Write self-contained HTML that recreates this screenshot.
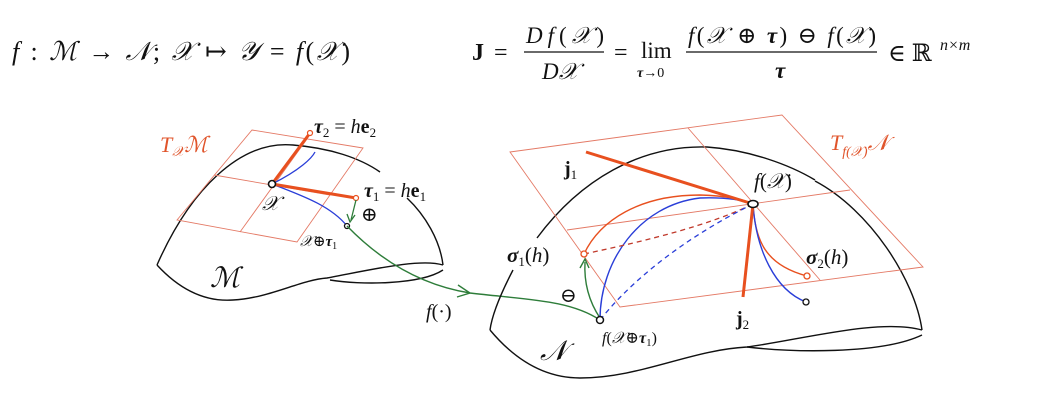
<!DOCTYPE html>
<html><head><meta charset="utf-8"><style>
html,body{margin:0;padding:0;background:#fff;}
svg{display:block;}
text{font-family:"Liberation Serif","DejaVu Serif",serif;fill:#111;}
.i{font-style:italic;}
.r{fill:#e0542b;}
</style></head><body>
<svg width="1052" height="419" viewBox="0 0 1052 419" xmlns="http://www.w3.org/2000/svg">
<!-- formulas -->
<text x="12" y="60" font-size="26" textLength="338" lengthAdjust="spacing"><tspan class="i">f</tspan> : <tspan class="i">ℳ</tspan> → <tspan class="i">𝒩</tspan>; <tspan class="i">𝒳</tspan> ↦ <tspan class="i">𝒴</tspan> = <tspan class="i">f</tspan>(<tspan class="i">𝒳</tspan>)</text>
<text x="472" y="60" font-size="24" font-weight="bold">J</text>
<text x="494" y="60" font-size="24">=</text>
<text x="526" y="43" font-size="23" textLength="78" lengthAdjust="spacing"><tspan class="i">Df</tspan>(<tspan class="i">𝒳</tspan>)</text>
<line x1="524" y1="52" x2="604" y2="52" stroke="#111" stroke-width="1.3"/>
<text x="542" y="79" font-size="23" class="i">D𝒳</text>
<text x="614" y="60" font-size="24">=</text>
<text x="641" y="58" font-size="23">lim</text>
<text x="637" y="77" font-size="14"><tspan font-weight="bold" class="i">τ</tspan>→0</text>
<text x="688" y="43" font-size="23" textLength="188" lengthAdjust="spacing"><tspan class="i">f</tspan>(<tspan class="i">𝒳</tspan> ⊕ <tspan font-weight="bold" class="i">τ</tspan>) ⊖ <tspan class="i">f</tspan>(<tspan class="i">𝒳</tspan>)</text>
<line x1="686" y1="52" x2="877" y2="52" stroke="#111" stroke-width="1.3"/>
<text x="775" y="78" font-size="23" font-weight="bold" class="i">τ</text>
<text x="888" y="61" font-size="24">∈ ℝ</text>
<text x="940" y="50" font-size="16" class="i">n×m</text>

<!-- Manifold M -->
<path d="M157,265 C190,190 240,140 293,145 C330,148 360,158 380,172" fill="none" stroke="#111" stroke-width="1.4"/>
<path d="M407,198 C425,215 440,240 443,265" fill="none" stroke="#111" stroke-width="1.4"/>
<path d="M157,265 C180,290 205,302 233,300 C270,298 300,280 327,278 C370,270 420,258 443,265" fill="none" stroke="#111" stroke-width="1.4"/>
<path d="M330,280 C360,285 420,285 443,270" fill="none" stroke="#111" stroke-width="1.4"/>
<!-- plane M -->
<g stroke="#e47a66" stroke-width="0.9" fill="none">
<path d="M177,220 L252,130 L363,148 L297,242 Z"/>
<path d="M214,175 L330,195"/>
<path d="M240,232 L307,139"/>
</g>
<text x="160" y="152" font-size="22" class="i r">T<tspan font-size="14" dy="4">𝒳</tspan><tspan dy="-4">ℳ</tspan></text>
<path d="M272,184 C300,170 312,158 315,152" fill="none" stroke="#2a3ed8" stroke-width="1.3"/>
<path d="M272,184 C300,195 330,205 347,226" fill="none" stroke="#2a3ed8" stroke-width="1.3"/>
<line x1="272" y1="184" x2="310" y2="133" stroke="#e8501f" stroke-width="3"/>
<line x1="272" y1="184" x2="356" y2="198" stroke="#e8501f" stroke-width="3"/>
<circle cx="310" cy="133" r="2.5" fill="#fff" stroke="#e8501f" stroke-width="1.2"/>
<circle cx="356" cy="198" r="2.5" fill="#fff" stroke="#e8501f" stroke-width="1.2"/>
<path d="M356,200 L351,220" stroke="#2e7d3a" stroke-width="1.3" fill="none"/>
<path d="M347,214 L350,222 L355,215" stroke="#2e7d3a" stroke-width="1.3" fill="none"/>
<circle cx="272" cy="184" r="3.5" fill="#fff" stroke="#111" stroke-width="1.6"/>
<circle cx="347" cy="226" r="2.5" fill="#fff" stroke="#111" stroke-width="1.3"/>
<text x="314" y="133" font-size="20"><tspan font-weight="bold" class="i">τ</tspan><tspan font-size="13" dy="4">2</tspan><tspan dy="-4"> = </tspan><tspan class="i">h</tspan><tspan font-weight="bold">e</tspan><tspan font-size="13" dy="4">2</tspan></text>
<text x="364" y="197" font-size="20"><tspan font-weight="bold" class="i">τ</tspan><tspan font-size="13" dy="4">1</tspan><tspan dy="-4"> = </tspan><tspan class="i">h</tspan><tspan font-weight="bold">e</tspan><tspan font-size="13" dy="4">1</tspan></text>
<text x="262" y="210" font-size="20" class="i">𝒳</text>
<text x="361" y="221" font-size="20">⊕</text>
<text x="300" y="246" font-size="15"><tspan class="i">𝒳</tspan>⊕<tspan font-weight="bold" class="i">τ</tspan><tspan font-size="10" dy="3">1</tspan></text>
<text x="210" y="287" font-size="28" class="i">ℳ</text>

<!-- green map -->
<path d="M347,226 C380,260 420,285 470,293 C530,300 570,300 600,320" fill="none" stroke="#2e7d3a" stroke-width="1.4"/>
<path d="M458,285 L470,293 L457,297" fill="none" stroke="#2e7d3a" stroke-width="1.4"/>
<text x="426" y="318" font-size="20"><tspan class="i">f</tspan>(·)</text>

<!-- Manifold N -->
<path d="M537,238 C580,180 640,145 707,147 C750,150 790,165 815,180" fill="none" stroke="#111" stroke-width="1.4"/>
<path d="M815,181 C870,210 915,280 922,330" fill="none" stroke="#111" stroke-width="1.4"/>
<path d="M513,270 C500,295 492,315 490,330" fill="none" stroke="#111" stroke-width="1.4"/>
<path d="M490,330 C515,360 545,378 580,378 C640,378 690,350 747,347 C800,340 880,318 922,330" fill="none" stroke="#111" stroke-width="1.4"/>
<path d="M747,347 C790,352 880,355 922,335" fill="none" stroke="#111" stroke-width="1.4"/>
<!-- plane N -->
<g stroke="#e47a66" stroke-width="0.9" fill="none">
<path d="M510,152 L782,115 L923,267 L620,307 Z"/>
<path d="M567,230 L850,190"/>
<path d="M688,128 L820,280"/>
</g>
<text x="830" y="150" font-size="22" class="i r">T<tspan font-size="14" dy="6">f(𝒳)</tspan><tspan dy="-6">𝒩</tspan></text>
<!-- curves -->
<path d="M584,254 C600,220 640,195 700,195 C730,196 745,200 753,204" fill="none" stroke="#e8501f" stroke-width="1.4"/>
<path d="M600,320 C600,260 640,205 700,198 C730,197 745,201 753,204" fill="none" stroke="#2a3ed8" stroke-width="1.4"/>
<path d="M584,254 C650,240 710,225 753,204" fill="none" stroke="#c0392b" stroke-width="1.3" stroke-dasharray="5,4"/>
<path d="M600,320 C640,270 700,230 753,204" fill="none" stroke="#2a3ed8" stroke-width="1.3" stroke-dasharray="5,4"/>
<path d="M753,204 C755,240 765,265 807,276" fill="none" stroke="#e8501f" stroke-width="1.4"/>
<path d="M753,204 C756,250 775,290 806,302" fill="none" stroke="#2a3ed8" stroke-width="1.4"/>
<line x1="753" y1="204" x2="586" y2="152" stroke="#e8501f" stroke-width="3"/>
<line x1="753" y1="204" x2="743" y2="297" stroke="#e8501f" stroke-width="3"/>
<path d="M600,318 C588,300 584,280 585,262" fill="none" stroke="#2e7d3a" stroke-width="1.4"/>
<path d="M580,268 L585,259 L589,268" fill="none" stroke="#2e7d3a" stroke-width="1.4"/>
<circle cx="584" cy="254" r="3" fill="#fff" stroke="#e8501f" stroke-width="1.3"/>
<circle cx="807" cy="276" r="3" fill="#fff" stroke="#e8501f" stroke-width="1.3"/>
<circle cx="806" cy="302" r="3" fill="#fff" stroke="#111" stroke-width="1.3"/>
<circle cx="600" cy="320" r="3.5" fill="#fff" stroke="#111" stroke-width="1.5"/>
<ellipse cx="753" cy="204" rx="5" ry="3.5" fill="#fff" stroke="#111" stroke-width="1.6"/>
<text x="564" y="175" font-size="20" font-weight="bold">j<tspan font-size="13" dy="4" font-weight="normal">1</tspan></text>
<text x="736" y="325" font-size="20" font-weight="bold">j<tspan font-size="13" dy="4" font-weight="normal">2</tspan></text>
<text x="754" y="188" font-size="21"><tspan class="i">f</tspan>(<tspan class="i">𝒳</tspan>)</text>
<text x="507" y="262" font-size="21"><tspan font-weight="bold" class="i">σ</tspan><tspan font-size="13" dy="4">1</tspan><tspan dy="-4">(</tspan><tspan class="i">h</tspan>)</text>
<text x="806" y="264" font-size="21"><tspan font-weight="bold" class="i">σ</tspan><tspan font-size="13" dy="4">2</tspan><tspan dy="-4">(</tspan><tspan class="i">h</tspan>)</text>
<text x="560" y="302" font-size="20" fill="#555">⊖</text>
<text x="602" y="343" font-size="16"><tspan class="i">f</tspan>(<tspan class="i">𝒳</tspan>⊕<tspan font-weight="bold" class="i">τ</tspan><tspan font-size="11" dy="3">1</tspan><tspan dy="-3">)</tspan></text>
<text x="540" y="360" font-size="28" class="i">𝒩</text>
</svg>
</body></html>
